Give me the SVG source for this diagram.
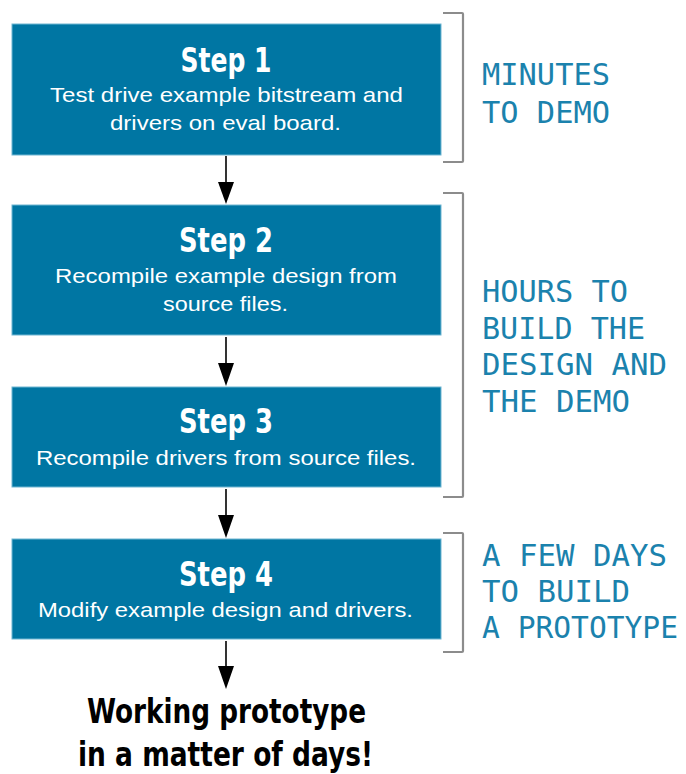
<svg xmlns="http://www.w3.org/2000/svg" width="686" height="774" viewBox="0 0 686 774">
  <style>
    .box { fill: #0076a3; stroke: #6fb6d2; stroke-width: 1; }
    .title { font-family: "Liberation Sans Narrow", "DejaVu Sans Condensed", "Liberation Sans", sans-serif; font-weight: bold; font-size: 34px; fill: #ffffff; text-anchor: middle; }
    .desc { font-family: "Liberation Sans", Arial, sans-serif; font-size: 21px; fill: #ffffff; }
    .lcd { font-family: "DejaVu Sans Mono", "Liberation Mono", monospace; font-size: 30px; fill: #1b82ad; }
    .bracket { fill: none; stroke: #8c8c8c; stroke-width: 2.2; stroke-linejoin: round; }
    .stem { stroke: #000000; stroke-width: 1.6; }
    .head { fill: #000000; }
    .result { font-family: "Liberation Sans Narrow", "DejaVu Sans Condensed", "Liberation Sans", sans-serif; font-weight: bold; font-size: 34px; fill: #000000; }
  </style>
  <rect width="686" height="774" fill="#ffffff"/>

  <!-- connectors between the steps -->
  <g id="connectors">
    <line class="stem" x1="226" y1="156" x2="226" y2="182"/>
    <path class="head" d="M218 182 L234 182 L226 204 Z"/>
    <line class="stem" x1="226" y1="337" x2="226" y2="363"/>
    <path class="head" d="M218 363 L234 363 L226 386 Z"/>
    <line class="stem" x1="226" y1="489" x2="226" y2="515"/>
    <path class="head" d="M218 515 L234 515 L226 538 Z"/>
    <line class="stem" x1="226" y1="641" x2="226" y2="666"/>
    <path class="head" d="M218 666 L234 666 L226 689 Z"/>
  </g>

  <!-- step boxes -->
  <g id="step1">
    <rect class="box" x="12" y="24" width="429" height="131"/>
    <text class="title" x="226" y="72" textLength="91" lengthAdjust="spacingAndGlyphs">Step 1</text>
    <text class="desc" x="50" y="102" textLength="353" lengthAdjust="spacingAndGlyphs">Test drive example bitstream and</text>
    <text class="desc" x="110" y="130" textLength="231" lengthAdjust="spacingAndGlyphs">drivers on eval board.</text>
  </g>
  <g id="step2">
    <rect class="box" x="12" y="205" width="429" height="130"/>
    <text class="title" x="226" y="252" textLength="94" lengthAdjust="spacingAndGlyphs">Step 2</text>
    <text class="desc" x="55" y="283" textLength="342" lengthAdjust="spacingAndGlyphs">Recompile example design from</text>
    <text class="desc" x="163" y="311" textLength="125" lengthAdjust="spacingAndGlyphs">source files.</text>
  </g>
  <g id="step3">
    <rect class="box" x="12" y="387" width="429" height="100"/>
    <text class="title" x="226" y="433" textLength="94" lengthAdjust="spacingAndGlyphs">Step 3</text>
    <text class="desc" x="36" y="465" textLength="380" lengthAdjust="spacingAndGlyphs">Recompile drivers from source files.</text>
  </g>
  <g id="step4">
    <rect class="box" x="12" y="539" width="429" height="100"/>
    <text class="title" x="226" y="586" textLength="94" lengthAdjust="spacingAndGlyphs">Step 4</text>
    <text class="desc" x="38" y="617" textLength="375" lengthAdjust="spacingAndGlyphs">Modify example design and drivers.</text>
  </g>

  <!-- outcome -->
  <g id="result">
    <text class="result" x="87" y="723" textLength="279" lengthAdjust="spacingAndGlyphs">Working prototype</text>
    <text class="result" x="78" y="766" textLength="295" lengthAdjust="spacingAndGlyphs">in a matter of days!</text>
  </g>

  <!-- time brackets with their notes -->
  <g id="phase-minutes">
    <path class="bracket" d="M443 13 L462 13 Q463 13 463 14 L463 161 Q463 162 462 162 L443 162"/>
    <text class="lcd" x="482" y="85" textLength="128" lengthAdjust="spacingAndGlyphs">MINUTES</text>
    <text class="lcd" x="482" y="123" textLength="128" lengthAdjust="spacingAndGlyphs">TO DEMO</text>
  </g>
  <g id="phase-hours">
    <path class="bracket" d="M443 193 L462 193 Q463 193 463 194 L463 496 Q463 497 462 497 L443 497"/>
    <text class="lcd" x="482" y="302" textLength="146" lengthAdjust="spacingAndGlyphs">HOURS TO</text>
    <text class="lcd" x="482" y="339" textLength="163" lengthAdjust="spacingAndGlyphs">BUILD THE</text>
    <text class="lcd" x="482" y="375" textLength="185" lengthAdjust="spacingAndGlyphs">DESIGN AND</text>
    <text class="lcd" x="482" y="412" textLength="148" lengthAdjust="spacingAndGlyphs">THE DEMO</text>
  </g>
  <g id="phase-days">
    <path class="bracket" d="M443 533 L462 533 Q463 533 463 534 L463 651 Q463 652 462 652 L443 652"/>
    <text class="lcd" x="482" y="566" textLength="185" lengthAdjust="spacingAndGlyphs">A FEW DAYS</text>
    <text class="lcd" x="482" y="602" textLength="148" lengthAdjust="spacingAndGlyphs">TO BUILD</text>
    <text class="lcd" x="482" y="638" textLength="196" lengthAdjust="spacingAndGlyphs">A PROTOTYPE</text>
  </g>
</svg>
